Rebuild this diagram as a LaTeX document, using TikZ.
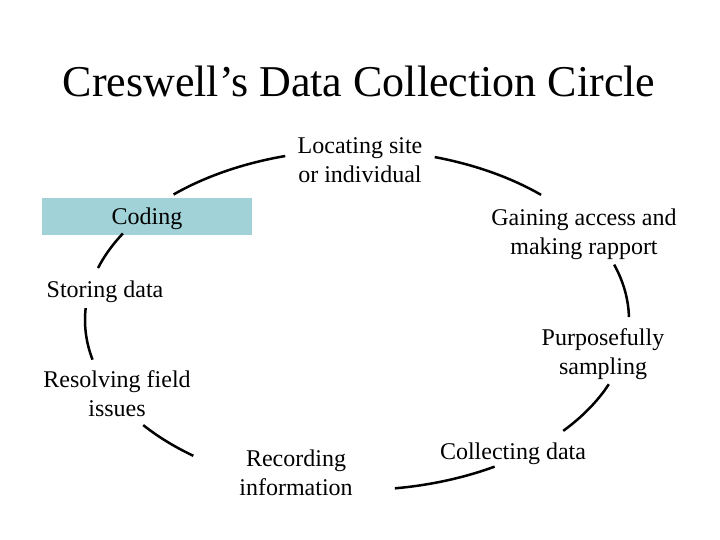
\documentclass[tikz,border=0pt]{standalone}
\usepackage{fontspec}
\setmainfont{Liberation Serif}
\definecolor{codingfill}{RGB}{160,210,215}
\tikzset{
  lbl/.style={align=center, inner sep=0pt, font=\fontsize{24}{29}\selectfont},
  arcline/.style={line width=2.5pt, black},
}
\begin{document}
\begin{tikzpicture}[x=1pt,y=1pt]
\useasboundingbox (0,0) rectangle (720,540);
\node[inner sep=0pt, font=\fontsize{44}{50}\selectfont] (title) at (359,459) {Creswell’s Data Collection Circle};
\node[lbl] (locating) at (360,380) {Locating site\\or individual};
\node[lbl, fill=codingfill, minimum width=210pt, minimum height=37pt, text height=22pt, text depth=5pt] (coding) at (147,323.5) {Coding};
\node[lbl] (gaining) at (584,306) {Gaining access and\\making rapport};
\node[lbl] (storing) at (105,248) {Storing data};
\node[lbl] (purpose) at (603,186) {Purposefully\\sampling};
\node[lbl] (resolving) at (117,146.5) {Resolving field\\issues};
\node[lbl] (recording) at (296,67.5) {Recording\\information};
\node[lbl] (collecting) at (513,86) {Collecting data};
\coordinate (O) at (357,220);
\def\ra{272}\def\rb{170}
\draw[arcline] (O) ++(132.4:\ra pt and \rb pt) arc[start angle=132.4, end angle=105.3, x radius=\ra pt, y radius=\rb pt];
\draw[arcline] (O) ++(73.4:\ra pt and \rb pt) arc[start angle=73.4, end angle=47.4, x radius=\ra pt, y radius=\rb pt];
\draw[arcline] (O) ++(149.4:\ra pt and \rb pt) arc[start angle=149.4, end angle=162.2, x radius=\ra pt, y radius=\rb pt];
\draw[arcline] (O) ++(19:\ra pt and \rb pt) arc[start angle=19, end angle=1, x radius=\ra pt, y radius=\rb pt];
\draw[arcline] (O) ++(-22.2:\ra pt and \rb pt) arc[start angle=-22.2, end angle=-40.7, x radius=\ra pt, y radius=\rb pt];
\draw[arcline] (O) ++(-59.6:\ra pt and \rb pt) arc[start angle=-59.6, end angle=-82, x radius=\ra pt, y radius=\rb pt];
\draw[arcline] (O) ++(176:\ra pt and \rb pt) arc[start angle=176, end angle=193.5, x radius=\ra pt, y radius=\rb pt];
\draw[arcline] (O) ++(218.2:\ra pt and \rb pt) arc[start angle=218.2, end angle=233, x radius=\ra pt, y radius=\rb pt];
\end{tikzpicture}
\end{document}
